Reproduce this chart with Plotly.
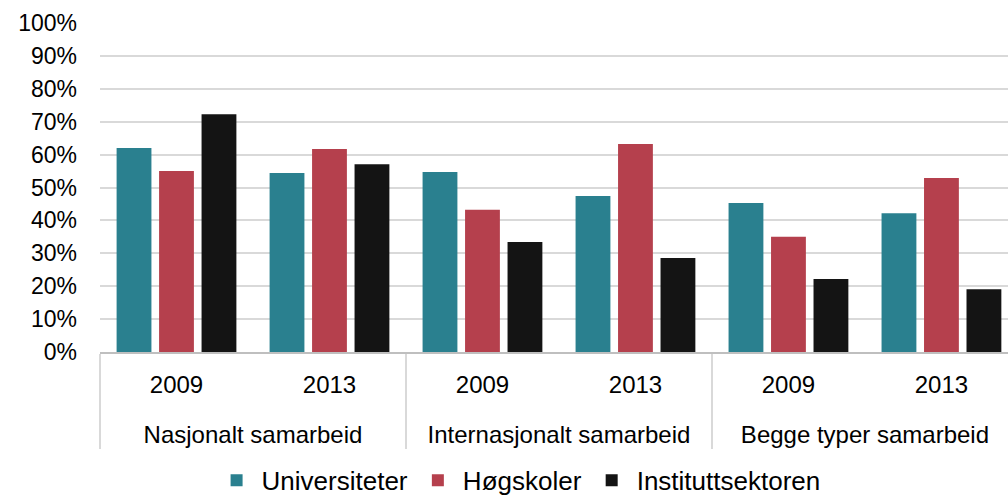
import plotly.graph_objects as go

groups = ["Nasjonalt samarbeid", "Internasjonalt samarbeid", "Begge typer samarbeid"]
years = ["2009", "2013"]

universiteter = [0.62, 0.544, 0.547, 0.474, 0.453, 0.422]
hogskoler = [0.55, 0.617, 0.432, 0.632, 0.35, 0.529]
instituttsektoren = [0.723, 0.571, 0.334, 0.286, 0.222, 0.191]

series_names = ["Universiteter", "Høgskoler", "Instituttsektoren"]
series_values = [universiteter, hogskoler, instituttsektoren]
series_colors = ["#2a808f", "#b5404d", "#141414"]

# leading line break pushes the group row further below the year row
x_groups = ["<br>" + g for g in groups for _ in years]
x_years = [y for _ in groups for y in years]

FONT = "Liberation Sans, Arial, sans-serif"

fig = go.Figure()
for name, vals, col in zip(series_names, series_values, series_colors):
    fig.add_trace(go.Bar(
        x=[x_groups, x_years],
        y=vals,
        name=name,
        marker=dict(color=col, line=dict(width=0)),
    ))

fig.update_layout(
    width=1008,
    height=497,
    margin=dict(l=100, r=0, t=23, b=145, autoexpand=False),
    paper_bgcolor="white",
    plot_bgcolor="white",
    barmode="group",
    bargap=0.167,
    bargroupgap=0.18,
    font=dict(family=FONT, size=22, color="#000000"),
    showlegend=True,
    legend=dict(
        orientation="h",
        x=0.461,
        xanchor="center",
        y=-0.39,
        yanchor="middle",
        font=dict(family=FONT, size=26, color="#000000"),
        traceorder="normal",
        itemwidth=40,
    ),
    xaxis=dict(
        type="multicategory",
        range=[-0.5, 5.435],
        automargin=False,
        showline=True,
        linecolor="#bfbfbf",
        linewidth=1.5,
        showgrid=False,
        ticks="",
        ticklabelstandoff=10,
        showdividers=True,
        dividercolor="#d9d9d9",
        dividerwidth=1.5,
        tickfont=dict(family=FONT, size=24, color="#000000"),
    ),
    yaxis=dict(
        range=[0, 1.0],
        automargin=False,
        tickvals=[i / 10 for i in range(11)],
        tickformat=".0%",
        showgrid=True,
        gridcolor="#d9d9d9",
        gridwidth=1.5,
        zeroline=False,
        showline=False,
        ticks="",
        ticklabelstandoff=22,
        tickfont=dict(family=FONT, size=23, color="#000000"),
    ),
)

fig.write_html(
    "out.html",
    config={"displayModeBar": False},
    post_script="document.body.style.margin='0';document.body.style.overflow='hidden';",
)
